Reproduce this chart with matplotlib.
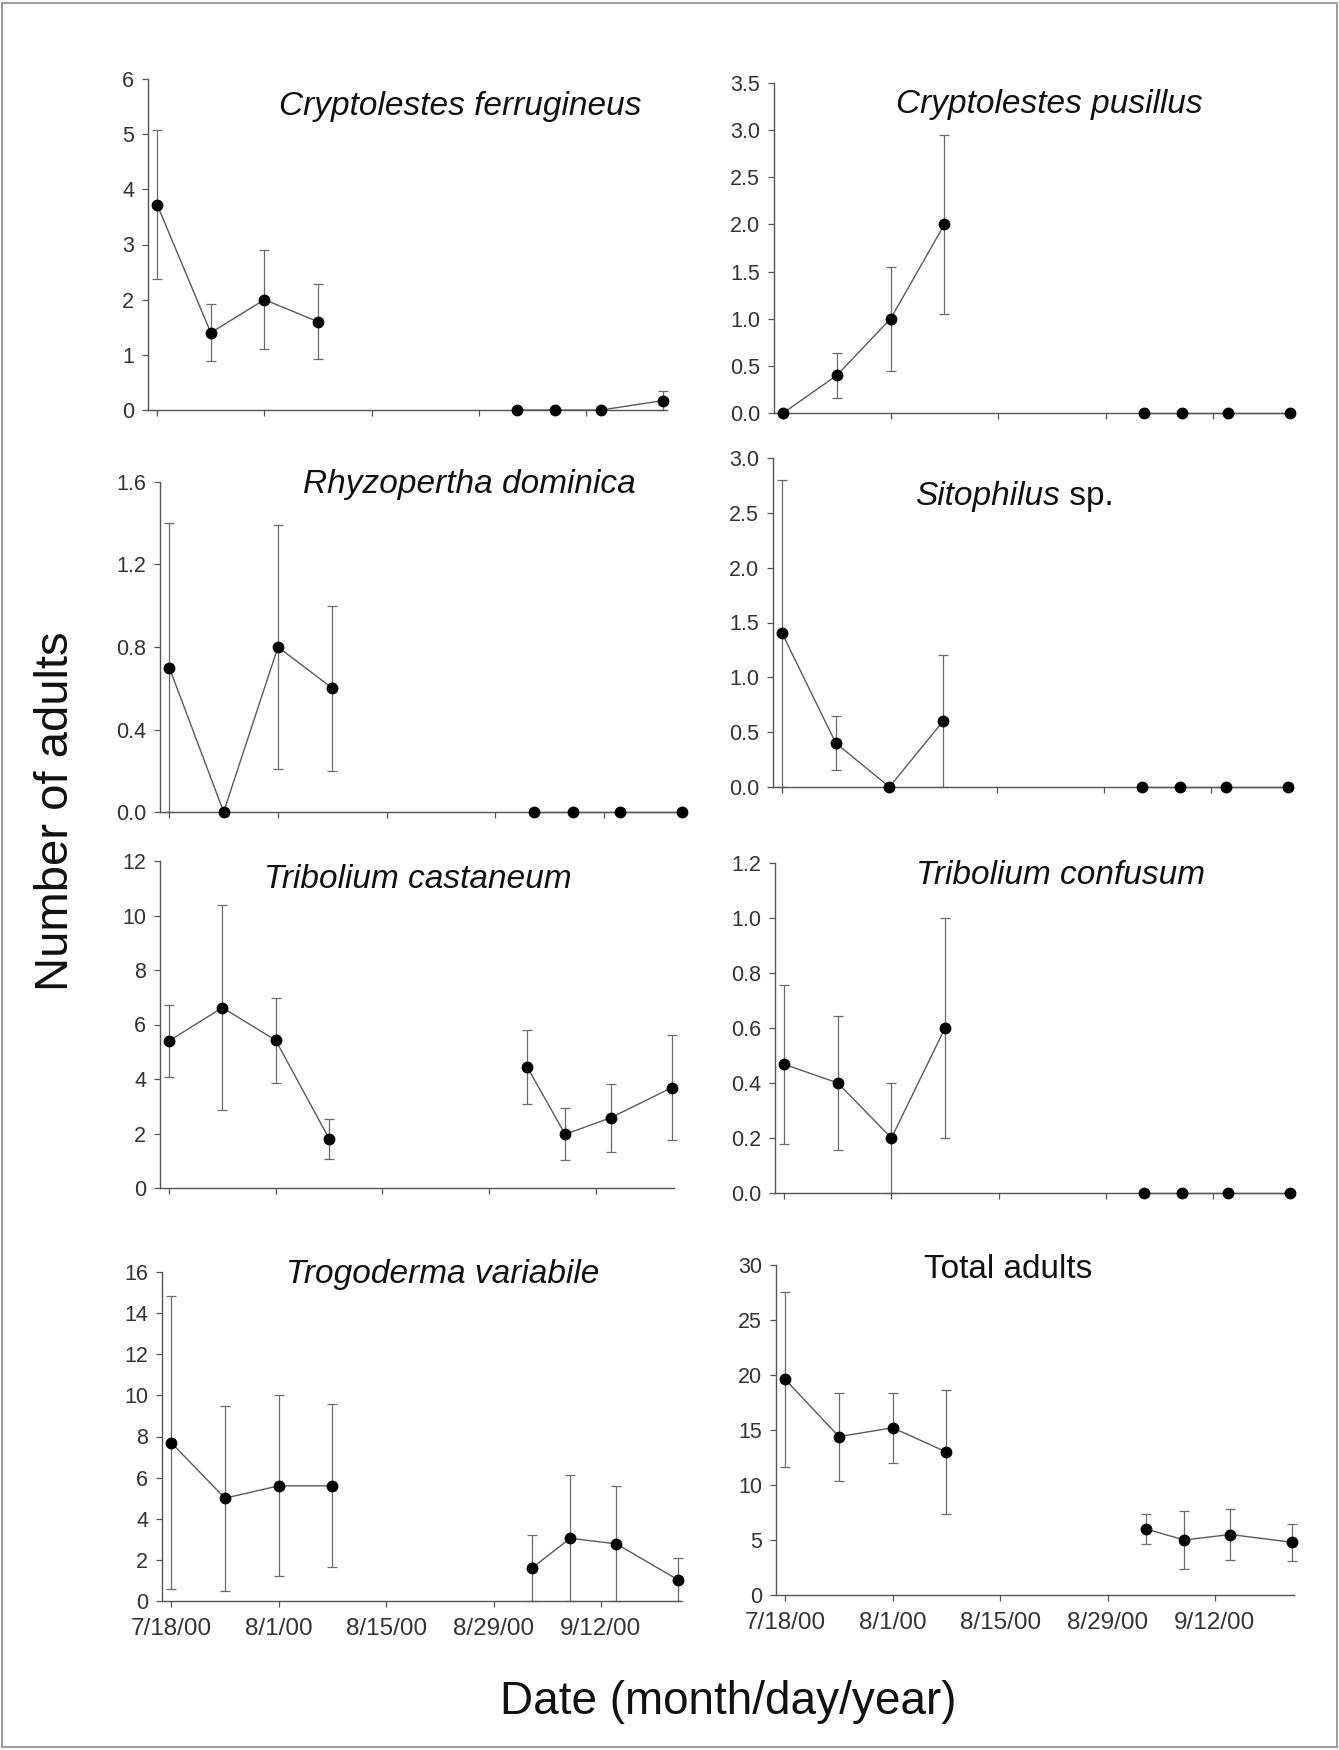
import matplotlib
matplotlib.use('Agg')
import matplotlib.pyplot as plt
from matplotlib.patches import Rectangle
from matplotlib.ticker import FixedLocator, FormatStrFormatter

plt.rcParams['font.family'] = ['Liberation Sans', 'DejaVu Sans']

# ---------------- data ----------------
days = [0, 7, 14, 21, 47, 52, 58, 66]          # days after 7/18/00
date_ticks = [0, 14, 28, 42, 56]
date_labels = ['7/18/00', '8/1/00', '8/15/00', '8/29/00', '9/12/00']

c_ferr_mean = [3.72, 1.40, 2.00, 1.60, 0, 0, 0, 0.17]
c_ferr_se   = [1.35, 0.52, 0.90, 0.68, 0, 0, 0, 0.17]

c_pus_mean = [0, 0.40, 1.00, 2.00, 0, 0, 0, 0]
c_pus_se   = [0, 0.24, 0.55, 0.95, 0, 0, 0, 0]

r_dom_mean = [0.70, 0, 0.80, 0.60, 0, 0, 0, 0]
r_dom_se   = [0.70, 0, 0.59, 0.40, 0, 0, 0, 0]

sito_mean = [1.40, 0.40, 0, 0.60, 0, 0, 0, 0]
sito_se   = [1.40, 0.245, 0, 0.60, 0, 0, 0, 0]

t_cas_mean = [5.40, 6.62, 5.42, 1.81, 4.45, 1.97, 2.58, 3.68]
t_cas_se   = [1.32, 3.75, 1.55, 0.74, 1.35, 0.96, 1.25, 1.93]

t_con_mean = [0.468, 0.40, 0.20, 0.60, 0, 0, 0, 0]
t_con_se   = [0.288, 0.245, 0.20, 0.40, 0, 0, 0, 0]

t_var_mean = [7.70, 5.00, 5.60, 5.60, 1.60, 3.05, 2.78, 1.04]
t_var_se   = [7.13, 4.50, 4.40, 3.97, 1.62, 3.07, 2.80, 1.03]

total_mean = [19.6, 14.4, 15.2, 13.0, 6.0, 5.0, 5.5, 4.8]
total_se   = [7.95, 4.00, 3.20, 5.65, 1.32, 2.67, 2.30, 1.70]

titles = ['Cryptolestes ferrugineus', 'Cryptolestes pusillus',
          'Rhyzopertha dominica', 'Sitophilus', 'Tribolium castaneum',
          'Tribolium confusum', 'Trogoderma variabile', 'Total adults']
means = [c_ferr_mean, c_pus_mean, r_dom_mean, sito_mean,
         t_cas_mean, t_con_mean, t_var_mean, total_mean]
ses = [c_ferr_se, c_pus_se, r_dom_se, sito_se,
       t_cas_se, t_con_se, t_var_se, total_se]
ymax = [6, 3.5, 1.6, 3.0, 12, 1.2, 16, 30]
ystep = [1, 0.5, 0.4, 0.5, 2, 0.2, 2, 5]
yfmt = ['%d', '%.1f', '%.1f', '%.1f', '%d', '%.1f', '%d', '%d']

# ---------------- layout (pixels) ----------------
W, H = 1339, 1750
# left, right, top(ymax), bottom(y=0)
boxes = [(148, 665, 79, 410), (774, 1292, 83, 413),
         (160, 684, 482, 812), (773, 1290, 458, 787),
         (160, 674, 861, 1188), (775, 1292, 863, 1193),
         (162, 680, 1272, 1601), (776, 1294, 1265, 1595)]
title_pos = [(460, 106), (1049, 104), (469, 485), (1013, 497),
             (418, 879), (1060, 876), (443, 1274), (1008, 1270)]
italic = [True, True, True, True, True, True, True, False]

fig = plt.figure(figsize=(W / 100, H / 100), dpi=100)
fig.patch.set_facecolor('white')

axis_col = '#555555'
line_col = '#5a5a5a'
err_col = '#6a6a6a'
tick_col = '#333333'
TFS = 24

for i in range(8):
    l, r, t, b = boxes[i]
    ax = fig.add_axes([l / W, 1 - b / H, (r - l) / W, (b - t) / H])
    ax.set_xlim(-1.2, 66.3)
    ax.set_ylim(0, ymax[i])
    for s in ['top', 'right']:
        ax.spines[s].set_visible(False)
    for s in ['left', 'bottom']:
        ax.spines[s].set_color(axis_col)
        ax.spines[s].set_linewidth(1.0)
    m = means[i]
    e = ses[i]
    ax.errorbar(days, m, yerr=e, fmt='none', ecolor=err_col,
                elinewidth=0.9, capsize=3.5, capthick=0.9, clip_on=False, zorder=2)
    ax.plot(days[:4], m[:4], color=line_col, lw=1.0, clip_on=False, zorder=3)
    ax.plot(days[4:], m[4:], color=line_col, lw=1.0, clip_on=False, zorder=3)
    ax.plot(days, m, 'o', color='black', ms=7.5, clip_on=False, zorder=4)

    n = int(round(ymax[i] / ystep[i]))
    ax.yaxis.set_major_locator(FixedLocator([k * ystep[i] for k in range(n + 1)]))
    ax.yaxis.set_major_formatter(FormatStrFormatter(yfmt[i]))
    ax.xaxis.set_major_locator(FixedLocator(date_ticks))
    ax.tick_params(axis='both', direction='out', length=4, width=0.9,
                   color=axis_col, labelcolor=tick_col)
    ax.tick_params(axis='y', labelsize=15.5, pad=6)
    if i >= 6:
        ax.set_xticklabels(date_labels)
        ax.tick_params(axis='x', labelsize=17.5, pad=8)
    else:
        ax.set_xticklabels([])

    tx, ty = title_pos[i]
    if titles[i] == 'Sitophilus':
        fig.text(1060 / W, 1 - ty / H, 'Sitophilus', ha='right', va='center',
                 fontsize=TFS, style='italic', color='#111111')
        fig.text(1060 / W, 1 - ty / H, ' sp.', ha='left', va='center',
                 fontsize=TFS, color='#111111')
    else:
        fig.text(tx / W, 1 - ty / H, titles[i], ha='center', va='center',
                 fontsize=TFS, style='italic' if italic[i] else 'normal',
                 color='#111111')

fig.text(56 / W, 1 - 811 / H, 'Number of adults', rotation=90,
         ha='center', va='center', fontsize=34, color='#111111')
fig.text(728 / W, 1 - 1702 / H, 'Date (month/day/year)',
         ha='center', va='center', fontsize=33, color='#111111')

fig.patches.append(Rectangle((0.0015, 0.0015), 0.997, 0.997,
                             transform=fig.transFigure, fill=False,
                             edgecolor='#8a8a8a', lw=1.2))

fig.savefig('out.png', dpi=100, facecolor='white')
